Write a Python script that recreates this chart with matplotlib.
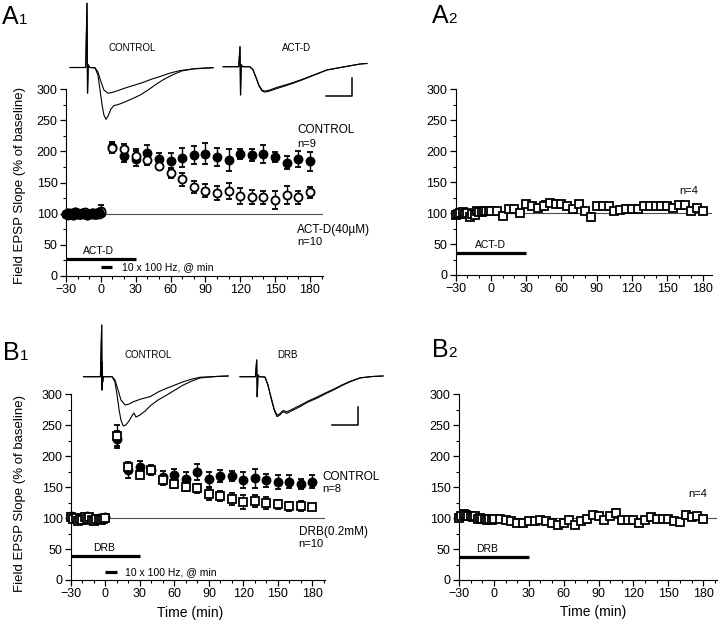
"""Field EPSP slope after tetanus: actinomycin D and DRB versus control."""

import matplotlib

matplotlib.use("Agg")
from matplotlib import pyplot as plt
from matplotlib.ticker import MultipleLocator

plt.rcParams["font.family"] = ["Liberation Sans", "DejaVu Sans"]

W, H = 720, 625

# ---- time bases (min) ----
BASE_T = [-30, -28, -26, -24, -22, -20, -18, -16, -14, -12, -10, -8, -6, -4, -2, 0]
POST_T = [10, 20, 30, 40, 50, 60, 70, 80, 90, 100, 110, 120, 130, 140, 150, 160, 170, 180]
POST_T5 = [5, 10, 15, 20, 25, 30, 35, 40, 45, 50, 55, 60, 65, 70, 75, 80, 85, 90,
           95, 100, 105, 110, 115, 120, 125, 130, 135, 140, 145, 150, 155, 160, 165,
           170, 175, 180]
X_TICKS = [-30, 0, 30, 60, 90, 120, 150, 180]
Y_TICKS = [0, 50, 100, 150, 200, 250, 300]

# ---- A1: control (filled circles) vs ACT-D (open circles) ----
A1_CTRL_BASE = [99, 101, 100, 98, 102, 100, 99, 101, 100, 98, 100, 101, 99, 100, 102, 101]
A1_CTRL_BASE_ERR = [2, 2, 3, 2, 2, 3, 2, 2, 2, 3, 2, 2, 3, 2, 2, 3]
A1_CTRL = [207, 193, 188, 198, 188, 184, 190, 194, 196, 191, 186, 196, 194, 196, 191, 182, 188, 184]
A1_CTRL_ERR = [8, 10, 12, 12, 10, 13, 15, 15, 17, 15, 18, 8, 10, 14, 8, 10, 13, 15]
A1_ACTD_BASE = [100, 98, 101, 100, 99, 101, 100, 99, 102, 100, 99, 100, 101, 99, 100, 105]
A1_ACTD_BASE_ERR = [2, 2, 2, 3, 2, 2, 2, 3, 2, 2, 2, 3, 2, 2, 2, 9]
A1_ACTD = [205, 203, 193, 186, 177, 165, 155, 143, 137, 133, 137, 128, 127, 126, 122, 130, 126, 134]
A1_ACTD_ERR = [8, 8, 10, 8, 6, 8, 10, 10, 11, 11, 13, 13, 11, 11, 14, 15, 10, 9]

# ---- A2: ACT-D alone, no tetanus (open squares) ----
A2_BASE = [97, 98, 100, 101, 99, 100, 94, 99, 97, 103, 102, 101, 104, 103, 103, 104]
A2_POST = [104, 96, 106, 106, 100, 115, 111, 109, 112, 117, 114, 114, 112, 106, 114, 104,
           94, 112, 112, 111, 104, 105, 107, 107, 107, 111, 111, 111, 112, 112, 109, 113,
           113, 104, 109, 104]
A2_POST_ERR = [2, 2, 2, 2, 2, 5, 2, 2, 7, 2, 2, 2, 2, 2, 2, 2,
               6, 2, 2, 6, 2, 2, 2, 2, 2, 2, 2, 2, 2, 2, 2, 2,
               2, 2, 4, 2]

# ---- B1: control (filled circles) vs DRB (open squares) ----
B1_CTRL_BASE = [104, 100, 99, 97, 98, 101, 99, 103, 100, 98, 97, 99, 100, 98, 100, 101]
B1_CTRL = [228, 177, 182, 177, 166, 169, 163, 174, 163, 168, 168, 161, 164, 161, 158, 159, 155, 159]
B1_CTRL_ERR = [12, 12, 10, 8, 10, 10, 11, 13, 12, 10, 8, 13, 15, 10, 11, 10, 8, 11]
B1_DRB_BASE = [102, 98, 100, 96, 99, 97, 101, 99, 102, 97, 96, 98, 99, 97, 99, 100]
B1_DRB = [232, 182, 169, 177, 161, 155, 150, 148, 139, 135, 131, 126, 128, 124, 122, 119, 119, 118]
B1_DRB_ERR = [18, 8, 5, 5, 8, 6, 6, 7, 10, 8, 10, 12, 10, 10, 7, 7, 8, 5]
B1_BASE_ERR = [3, 2, 2, 3, 2, 2, 3, 2, 2, 3, 2, 2, 3, 2, 2, 3]

# ---- B2: DRB alone, no tetanus (open squares) ----
B2_BASE = [100, 104, 106, 105, 103, 104, 101, 103, 99, 100, 98, 99, 97, 98, 97, 99]
B2_POST = [99, 97, 96, 92, 92, 95, 95, 97, 96, 92, 89, 92, 97, 89, 95, 99,
           105, 103, 97, 104, 108, 97, 97, 97, 92, 97, 101, 99, 99, 99, 96, 93,
           105, 101, 104, 99]
B2_POST_ERR = [2, 2, 2, 2, 2, 2, 2, 2, 2, 2, 2, 2, 2, 2, 2, 2,
               2, 2, 2, 2, 7, 2, 2, 2, 2, 2, 2, 2, 2, 2, 2, 2,
               2, 2, 2, 2]

# ---- example sweeps (ms, mV), stimulus at t = 0 ----
A1_CTRL_PRE_T = [-6.5, -0.5, 0.0, 0.2, 0.5, 1.0, 3.1, 4.2, 5.4, 6.5, 8.1, 9.6, 11.9,
                 15.3, 18.5, 21.5, 25.0, 28.1, 31.9, 35.8, 40.8, 48.5]
A1_CTRL_PRE_V = [0, 0, 3.57, -1.42, 0.15, 0, -0.02, -0.25, -0.8, -1.25, -1.43, -1.39,
                 -1.28, -1.11, -0.97, -0.83, -0.64, -0.5, -0.31, -0.17, -0.08, -0.01]
A1_CTRL_POST_T = [-6.5, -0.5, 0.0, 0.2, 0.5, 1.0, 3.1, 4.2, 5.0, 5.8, 6.5, 7.3, 8.1, 9.2,
                  10.4, 11.5, 13.1, 15.4, 18.1, 20.4, 23.5, 26.2, 29.2, 32.7, 36.5,
                  41.5, 48.5]
A1_CTRL_POST_V = [0, 0, 3.57, -1.42, 0.15, 0, -0.02, -0.42, -1.25, -2.08, -2.64, -2.88,
                  -2.69, -2.31, -2.11, -2.08, -2.0, -1.86, -1.69, -1.53, -1.25, -0.97,
                  -0.69, -0.42, -0.19, -0.06, -0.01]
A1_ACTD_T = [-6.5, -0.5, 0.0, 0.2, 0.5, 1.0, 3.8, 5.0, 6.2, 7.3, 8.5, 9.6, 11.5, 14.2,
             17.3, 20.4, 23.8, 26.9, 30.0, 33.5, 39.6, 46.2, 48.8]
A1_ACTD_PRE_V = [0, 0, 1.11, -1.57, 0.1, 0, 0, -0.18, -0.63, -1.07, -1.35, -1.41, -1.35,
                 -1.21, -1.07, -0.92, -0.74, -0.56, -0.38, -0.18, -0.02, 0.15, 0.18]
A1_ACTD_POST_V = [0, 0, 1.11, -1.57, 0.1, 0, 0, -0.16, -0.6, -1.03, -1.3, -1.36, -1.29,
                  -1.15, -1.02, -0.88, -0.71, -0.54, -0.37, -0.18, -0.02, 0.15, 0.18]

B1_CTRL_PRE_T = [-7.0, -0.5, 0.0, 0.1, 0.2, 0.35, 0.6, 4.0, 5.1, 6.3, 7.4, 9.0, 10.5,
                 12.2, 15.1, 18.6, 21.7, 25.0, 28.2, 31.4, 34.7, 37.8, 48.6]
B1_CTRL_PRE_V = [0, 0, 2.87, -0.74, 0.8, -0.3, 0, 0, -0.18, -0.74, -1.29, -1.57, -1.52,
                 -1.39, -1.24, -1.11, -0.85, -0.64, -0.46, -0.28, -0.13, -0.03, 0.04]
B1_CTRL_POST_T = [-7.0, -0.5, 0.0, 0.1, 0.2, 0.35, 0.6, 4.0, 5.1, 5.9, 6.7, 7.4, 8.3,
                  9.3, 10.5, 11.6, 12.4, 13.2, 14.7, 16.7, 18.6, 21.7, 25.0, 28.2, 31.4,
                  34.7, 37.8, 43.6, 48.6]
B1_CTRL_POST_V = [0, 0, 2.87, -0.74, 0.8, -0.3, 0, 0, -0.29, -1.02, -1.85, -2.41, -2.74,
                  -2.68, -2.46, -2.18, -2.02, -2.24, -2.13, -1.91, -1.63, -1.29, -1.02,
                  -0.74, -0.46, -0.24, -0.07, 0.01, 0.04]
B1_DRB_T = [-6.4, -0.5, 0.0, 0.2, 0.5, 1.0, 3.2, 4.3, 5.5, 6.7, 7.8, 8.9, 10.1, 11.6,
            13.2, 16.6, 19.7, 23.1, 26.3, 29.5, 32.8, 35.9, 39.8, 44.4, 48.6]
B1_DRB_PRE_V = [0, 0, 0.93, -1.11, 0.1, 0, -0.02, -0.46, -1.18, -1.85, -2.22, -2.13,
                -1.94, -2.04, -1.91, -1.67, -1.41, -1.2, -0.96, -0.74, -0.49, -0.28,
                -0.07, 0.01, 0.04]
B1_DRB_POST_V = [0, 0, 0.93, -1.11, 0.1, 0, -0.02, -0.44, -1.13, -1.78, -2.14, -2.06,
                 -1.88, -1.95, -1.84, -1.6, -1.36, -1.14, -0.91, -0.7, -0.46, -0.26,
                 -0.06, 0.01, 0.04]

PX_PER_MS = 2.6
PX_PER_MV = 18.0
TRACE_XLIM = (-8, 50)
TRACE_YLIM = (-3.2, 3.7)


def fig_box(left, top, right, bottom):
    """Pixel box -> figure fraction rectangle."""
    return [left / W, 1 - bottom / H, (right - left) / W, (bottom - top) / H]


def make_panel(fig, box, xmax):
    ax = fig.add_axes(fig_box(*box))
    ax.set_xlim(-30, xmax)
    ax.set_ylim(0, 300)
    for side in ("top", "right"):
        ax.spines[side].set_visible(False)
    ax.spines["left"].set_bounds(0, 300)
    ax.set_xticks(X_TICKS)
    ax.set_yticks(Y_TICKS)
    ax.xaxis.set_minor_locator(MultipleLocator(10))
    ax.yaxis.set_minor_locator(MultipleLocator(25))
    ax.tick_params(which="major", length=4, width=0.9, labelsize=9, pad=2)
    ax.tick_params(which="minor", length=2.2, width=0.8)
    ax.axhline(100, color="0.3", lw=0.8, zorder=1)
    return ax


def plot_series(ax, t, v, err, marker, filled, z):
    cont = ax.errorbar(
        t, v, yerr=err, fmt=marker, ms=5.8,
        mfc="black" if filled else "white", mec="black", mew=1.3,
        ecolor="black", elinewidth=1.0, capsize=2.2, capthick=1.0, zorder=z,
    )
    for art in cont.get_children():
        art.set_clip_on(False)


def trace_axes(fig, stim_px, base_py):
    left = stim_px + TRACE_XLIM[0] * PX_PER_MS
    right = stim_px + TRACE_XLIM[1] * PX_PER_MS
    top = base_py - TRACE_YLIM[1] * PX_PER_MV
    bottom = base_py - TRACE_YLIM[0] * PX_PER_MV
    ax = fig.add_axes(fig_box(left, top, right, bottom))
    ax.set_xlim(TRACE_XLIM)
    ax.set_ylim(TRACE_YLIM)
    ax.axis("off")
    return ax


def scale_bar(ax, t_corner, v_corner):
    ax.plot([t_corner - 10, t_corner, t_corner], [v_corner, v_corner, v_corner + 1],
            color="black", lw=1.1, clip_on=False)


def add_bar(ax, x0, x1, y, label=None, label_x=None):
    ax.plot([x0, x1], [y, y], color="black", lw=2.3, solid_capstyle="butt",
            clip_on=False, zorder=3)
    if label:
        ax.text(label_x, y + 13, label, fontsize=7.5, ha="center", va="center")


def panel_label(fig, x, y, letter, digit):
    fig.text(x / W, 1 - y / H, letter, fontsize=18, va="baseline")
    fig.text((x + 16.5) / W, 1 - y / H, digit, fontsize=11, va="baseline")


fig = plt.figure(figsize=(W / 100, H / 100), dpi=100)

# ---------------- A1 ----------------
ax = make_panel(fig, (66, 89, 323.3, 276), 191.5)
plot_series(ax, BASE_T + POST_T, A1_CTRL_BASE + A1_CTRL, A1_CTRL_BASE_ERR + A1_CTRL_ERR, "o", True, 4)
plot_series(ax, BASE_T + POST_T, A1_ACTD_BASE + A1_ACTD, A1_ACTD_BASE_ERR + A1_ACTD_ERR, "o", False, 5)
# re-draw the baseline filled points on top so the band looks solid
plot_series(ax, BASE_T[:-1], A1_CTRL_BASE[:-1], A1_CTRL_BASE_ERR[:-1], "o", True, 6)
add_bar(ax, -30, 30, 27, "ACT-D", -2)
add_bar(ax, 0, 10, 14)
ax.text(18, 14, "10 x 100 Hz, @ min", fontsize=7.5, va="center")
ax.text(169, 235, "CONTROL", fontsize=8.5, va="center", clip_on=False)
ax.text(169, 212, "n=9", fontsize=8, va="center", clip_on=False)
ax.text(169, 73, "ACT-D(40\u00b5M)", fontsize=8.5, va="center", clip_on=False)
ax.text(169, 54, "n=10", fontsize=8, va="center", clip_on=False)

# ---------------- A2 ----------------
ax = make_panel(fig, (455.7, 89.3, 711.7, 275), 187.8)
plot_series(ax, BASE_T + POST_T5, A2_BASE + A2_POST, [2] * len(BASE_T) + A2_POST_ERR, "s", False, 4)
add_bar(ax, -30, 30, 36, "ACT-D", 0)
ax.text(160, 135, "n=4", fontsize=8, va="center")

# ---------------- B1 ----------------
ax = make_panel(fig, (71, 394.3, 325, 580), 191)
plot_series(ax, BASE_T + POST_T, B1_CTRL_BASE + B1_CTRL, B1_BASE_ERR + B1_CTRL_ERR, "o", True, 4)
plot_series(ax, BASE_T + POST_T, B1_DRB_BASE + B1_DRB, B1_BASE_ERR + B1_DRB_ERR, "s", False, 5)
add_bar(ax, -30, 30, 38, "DRB", -1)
add_bar(ax, 0, 10, 13)
ax.text(17, 13, "10 x 100 Hz, @ min", fontsize=7.5, va="center")
ax.text(189, 166, "CONTROL", fontsize=8.5, va="center", clip_on=False)
ax.text(189, 147, "n=8", fontsize=8, va="center", clip_on=False)
ax.text(168, 77, "DRB(0.2mM)", fontsize=8.5, va="center", clip_on=False)
ax.text(168, 58, "n=10", fontsize=8, va="center", clip_on=False)

# ---------------- B2 ----------------
ax = make_panel(fig, (459, 394.3, 716.7, 580), 191.6)
plot_series(ax, BASE_T + POST_T5, B2_BASE + B2_POST, [2] * len(BASE_T) + B2_POST_ERR, "s", False, 4)
add_bar(ax, -30, 30, 37, "DRB", -6)
ax.text(167, 139, "n=4", fontsize=8, va="center")

# ---------------- example sweeps ----------------
tax = trace_axes(fig, 87, 67.5)
tax.plot(A1_CTRL_PRE_T, A1_CTRL_PRE_V, color="black", lw=0.8)
tax.plot(A1_CTRL_POST_T, A1_CTRL_POST_V, color="black", lw=0.8)
tax.text(17.2, 1.1, "CONTROL", fontsize=7, ha="center", va="center")

tax = trace_axes(fig, 240, 66.7)
tax.plot(A1_ACTD_T, A1_ACTD_PRE_V, color="black", lw=0.8)
tax.plot(A1_ACTD_T, A1_ACTD_POST_V, color="black", lw=0.8)
tax.text(21.8, 1.06, "ACT-D", fontsize=7, ha="center", va="center")
scale_bar(tax, 43.1, -1.63)

tax = trace_axes(fig, 101.7, 376.7)
tax.plot(B1_CTRL_PRE_T, B1_CTRL_PRE_V, color="black", lw=0.8)
tax.plot(B1_CTRL_POST_T, B1_CTRL_POST_V, color="black", lw=0.8)
tax.text(17.8, 1.2, "CONTROL", fontsize=7, ha="center", va="center")

tax = trace_axes(fig, 256.7, 376.7)
tax.plot(B1_DRB_T, B1_DRB_PRE_V, color="black", lw=0.8)
tax.plot(B1_DRB_T, B1_DRB_POST_V, color="black", lw=0.8)
tax.text(12, 1.2, "DRB", fontsize=7, ha="center", va="center")
scale_bar(tax, 39, -2.68)

# ---------------- labels ----------------
panel_label(fig, 2, 24, "A", "1")
panel_label(fig, 432, 23, "A", "2")
panel_label(fig, 3, 360, "B", "1")
panel_label(fig, 432, 357, "B", "2")

ylab = "Field EPSP Slope (% of baseline)"
fig.text(20 / W, 1 - 186 / H, ylab, fontsize=9.5, rotation=90, ha="center", va="center")
fig.text(20 / W, 1 - 493 / H, ylab, fontsize=9.5, rotation=90, ha="center", va="center")
fig.text(190 / W, 1 - 613 / H, "Time (min)", fontsize=10, ha="center", va="center")
fig.text(593 / W, 1 - 612 / H, "Time (min)", fontsize=10, ha="center", va="center")

fig.savefig("out.png", dpi=100)
